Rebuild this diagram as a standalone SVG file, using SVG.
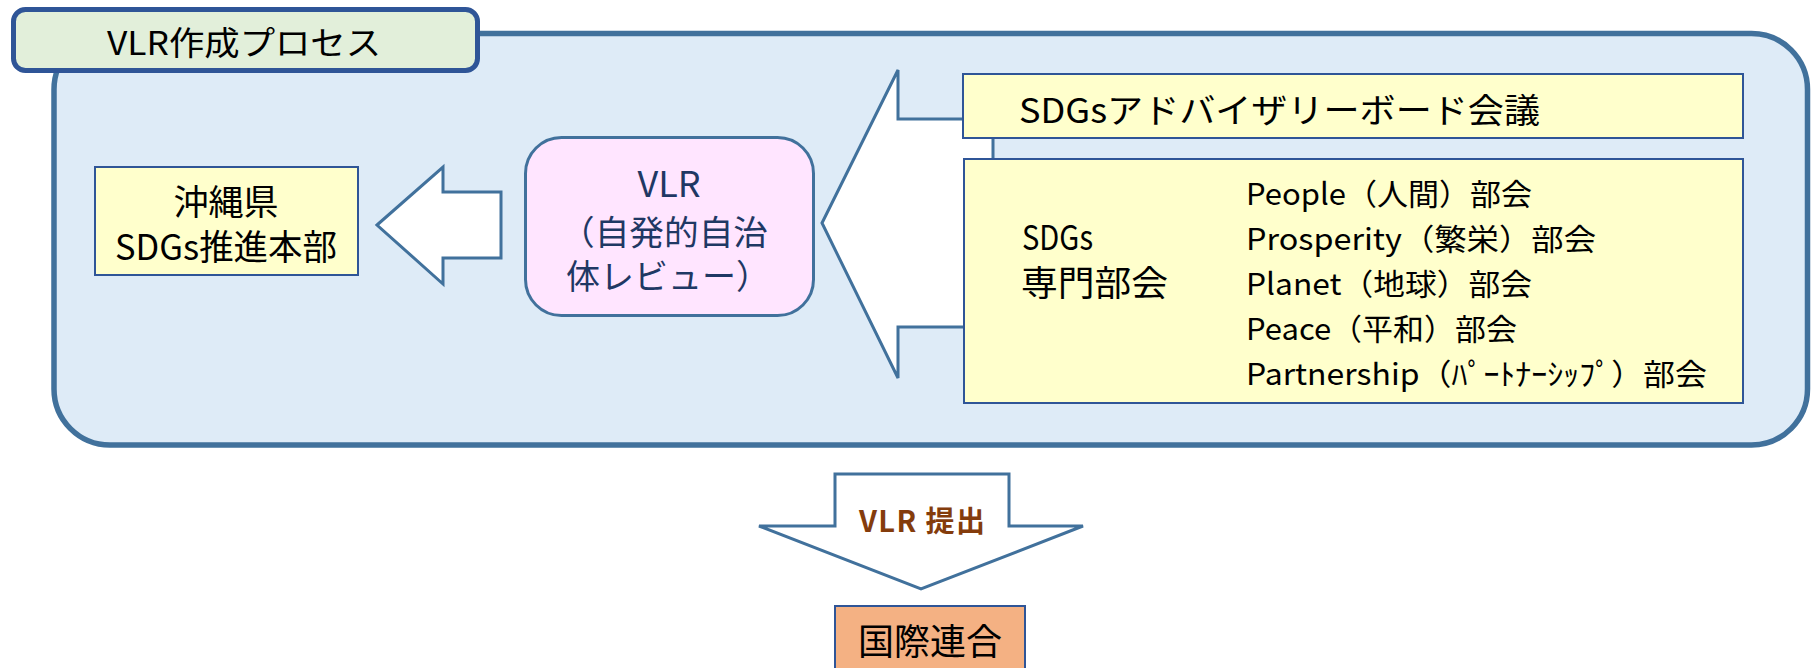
<svg xmlns="http://www.w3.org/2000/svg" width="1818" height="668" viewBox="0 0 1818 668">
<style>
text{font-family:"Noto Sans CJK JP","Noto Sans",sans-serif;fill:#000}
.box{fill:#FFFFCC;stroke:#2F5597;stroke-width:2}
.arrow{fill:#FFFFFF;stroke:#41719C;stroke-width:3;stroke-linejoin:miter}
.list{font-size:30px}
</style>
<rect width="1818" height="668" fill="#FFFFFF"/>
<g id="container">
<rect x="54" y="33.5" width="1753.5" height="411.5" rx="56" ry="56" fill="#DEEBF7" stroke="#41719C" stroke-width="5.5"/>
</g>
<g id="title">
<rect x="13.5" y="9.5" width="464" height="61" rx="12" ry="12" fill="#E2EFDA" stroke="#2F5597" stroke-width="5"/>
<text x="107" y="55" font-size="33" textLength="274" lengthAdjust="spacingAndGlyphs">VLR作成プロセス</text>
</g>
<g id="connectors">
<polygon class="arrow" points="377,225 443,167 443,192 501,192 501,258 443,258 443,284"/>
<polygon class="arrow" points="822,223 898,70 898,119 993,119 993,327 898,327 898,378"/>
<polygon class="arrow" stroke-width="5" points="835,474 1009,474 1009,526 1083,526 921,589 759,526 835,526"/>
<text x="859" y="532" font-size="29" font-weight="bold" textLength="126" lengthAdjust="spacing" style="fill:#843C0C">VLR 提出</text>
<path d="M1197,182 Q1187,182 1187,194 L1187,268 Q1187,280 1176,280 Q1187,280 1187,292 L1187,366 Q1187,378 1197,378" fill="none" stroke="#2F5597" stroke-width="2.2"/>
</g>
<g id="okinawa">
<rect class="box" x="95" y="167" width="263" height="108"/>
<text x="226" y="215" font-size="35" text-anchor="middle">沖縄県</text>
<text x="115" y="260" font-size="35" textLength="222" lengthAdjust="spacingAndGlyphs">SDGs推進本部</text>
</g>
<g id="vlr">
<rect x="525.5" y="137.5" width="288" height="178" rx="36" ry="36" fill="#FFE5FF" stroke="#41719C" stroke-width="3"/>
<text x="669" y="197" font-size="36" text-anchor="middle" style="fill:#1F3864">VLR</text>
<text x="560" y="245" font-size="34" textLength="208" lengthAdjust="spacingAndGlyphs" style="fill:#1F3864">（自発的自治</text>
<text x="566" y="289" font-size="34" textLength="204" lengthAdjust="spacingAndGlyphs" style="fill:#1F3864">体レビュー）</text>
</g>
<g id="advisory">
<rect class="box" x="963" y="74" width="780" height="64"/>
<text x="1019" y="123" font-size="34" textLength="521" lengthAdjust="spacingAndGlyphs">SDGsアドバイザリーボード会議</text>
</g>
<g id="committee">
<rect class="box" x="964" y="159" width="779" height="244"/>
<text x="1022" y="250" font-size="34" textLength="71" lengthAdjust="spacingAndGlyphs">SDGs</text>
<text x="1021" y="296" font-size="35" textLength="147" lengthAdjust="spacingAndGlyphs">専門部会</text>
<text class="list" x="1246" y="205" textLength="286" lengthAdjust="spacingAndGlyphs">People（人間）部会</text>
<text class="list" x="1246" y="250" textLength="350" lengthAdjust="spacingAndGlyphs">Prosperity（繁栄）部会</text>
<text class="list" x="1246" y="295" textLength="286" lengthAdjust="spacingAndGlyphs">Planet（地球）部会</text>
<text class="list" x="1246" y="340" textLength="271" lengthAdjust="spacingAndGlyphs">Peace（平和）部会</text>
<text class="list" x="1246" y="385" textLength="461" lengthAdjust="spacingAndGlyphs">Partnership（ﾊﾟｰﾄﾅｰｼｯﾌﾟ）部会</text>
</g>
<g id="un">
<rect x="835" y="606" width="190" height="70" fill="#F4B183" stroke="#2F5597" stroke-width="2"/>
<text x="930" y="655" font-size="36" text-anchor="middle">国際連合</text>
</g>
</svg>
